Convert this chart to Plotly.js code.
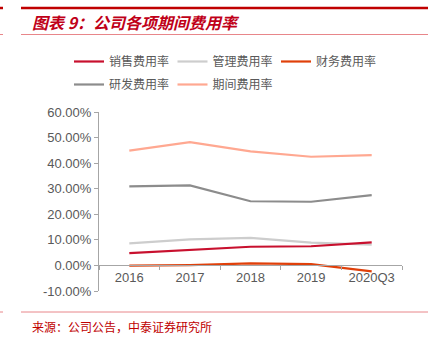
<!DOCTYPE html>
<html>
<head>
<meta charset="utf-8">
<script src="https://cdn.plot.ly/plotly-3.0.1.min.js"></script>
<style>html,body{margin:0;padding:0;background:#fff;}#chart{width:439px;height:345px;}</style>
</head>
<body>
<div id="chart"></div>
<script>
var categories = ['2016', '2017', '2018', '2019', '2020Q3'];
var salesRate = [4.8, 6.1, 7.3, 7.5, 9.0];
var adminRate = [8.6, 10.2, 10.8, 8.9, 8.1];
var financeRate = [-0.1, 0.1, 0.8, 0.5, -2.3];
var rdRate = [30.9, 31.3, 25.1, 24.9, 27.5];
var periodRate = [44.9, 48.2, 44.6, 42.5, 43.1];
var seriesNames = ['销售费用率', '管理费用率', '财务费用率', '研发费用率', '期间费用率'];
var tickVals = [-10, 0, 10, 20, 30, 40, 50, 60];
var tickText = ['-10.00%', '0.00%', '10.00%', '20.00%', '30.00%', '40.00%', '50.00%', '60.00%'];

var colors = ['#C8102E', '#CDCDCD', '#E0400A', '#8C8C8C', '#FFA891'];
var seriesData = [salesRate, adminRate, financeRate, rdRate, periodRate];
var legendIds = ['legend', 'legend', 'legend', 'legend2', 'legend2'];

var traces = seriesData.map(function (vals, i) {
  return {
    type: 'scatter', mode: 'lines', x: categories, y: vals, name: seriesNames[i],
    line: {color: colors[i], width: 2.2}, hoverinfo: 'skip',
    legend: legendIds[i], legendrank: i + 1
  };
});
// draw order: lighter lines behind
var order = [4, 3, 1, 0, 2];
var drawTraces = order.map(function (k) { return traces[k]; });

var L = 99, T = 112, W = 303, H = 179;
function px(x) { return (x - L) / W; }
function py(y) { return (T + H - y) / H; }

var legendBase = {
  orientation: 'h', x: px(69), xanchor: 'left', yanchor: 'top',
  font: {family: 'Noto Sans CJK SC, sans-serif', size: 12, color: '#595959'},
  entrywidth: 58.5, entrywidthmode: 'pixels', traceorder: 'normal',
  bgcolor: 'rgba(0,0,0,0)', itemclick: false
};

var layout = {
  width: 439, height: 345,
  margin: {l: L, r: 439 - L - W, t: T, b: 345 - T - H},
  paper_bgcolor: '#fff', plot_bgcolor: '#fff',
  font: {family: 'Liberation Sans, Arial, sans-serif', color: '#595959', size: 13},
  showlegend: true,
  legend: Object.assign({}, legendBase, {y: py(47)}),
  legend2: Object.assign({}, legendBase, {y: py(70)}),
  xaxis: {
    type: 'category', range: [-0.5, 4.5], anchor: 'free', position: 1 / 7,
    showline: true, linecolor: '#A6A6A6', linewidth: 1,
    ticks: 'outside', ticklen: 4, tickcolor: '#A6A6A6', tickson: 'boundaries',
    showgrid: false, zeroline: false, fixedrange: true,
    tickfont: {size: 13, color: '#595959'}
  },
  yaxis: {
    range: [-10, 60], tickvals: tickVals, ticktext: tickText,
    showline: true, linecolor: '#A6A6A6', linewidth: 1,
    ticks: 'outside', ticklen: 4, tickcolor: '#A6A6A6',
    showgrid: false, zeroline: false, fixedrange: true,
    tickfont: {size: 13, color: '#595959'}
  },
  shapes: [
    {type: 'line', xref: 'paper', yref: 'paper', x0: px(21), x1: px(428), y0: py(8), y1: py(8), line: {color: '#C00000', width: 2.5}},
    {type: 'line', xref: 'paper', yref: 'paper', x0: px(0), x1: px(3), y0: py(8), y1: py(8), line: {color: '#C00000', width: 2.5}},
    {type: 'line', xref: 'paper', yref: 'paper', x0: px(21), x1: px(428), y0: py(34.5), y1: py(34.5), line: {color: '#E8868A', width: 1}},
    {type: 'line', xref: 'paper', yref: 'paper', x0: px(0), x1: px(3), y0: py(34.5), y1: py(34.5), line: {color: '#E8868A', width: 1}},
    {type: 'line', xref: 'paper', yref: 'paper', x0: px(21), x1: px(428), y0: py(312), y1: py(312), line: {color: '#E8868A', width: 1}},
    {type: 'line', xref: 'paper', yref: 'paper', x0: px(0), x1: px(3), y0: py(312), y1: py(312), line: {color: '#E8868A', width: 1}}
  ],
  annotations: [
    {xref: 'paper', yref: 'paper', x: px(30), y: py(22), xanchor: 'left', yanchor: 'middle', showarrow: false,
     text: '<b><i>图表 9：公司各项期间费用率</i></b>',
     font: {family: 'Noto Sans CJK SC, sans-serif', size: 16, color: '#C00018'}},
    {xref: 'paper', yref: 'paper', x: px(30), y: py(326), xanchor: 'left', yanchor: 'middle', showarrow: false,
     text: '来源：公司公告，中泰证券研究所',
     font: {family: 'Noto Sans CJK SC, sans-serif', size: 12, color: '#C00000'}}
  ]
};

Plotly.newPlot('chart', drawTraces, layout, {displayModeBar: false, staticPlot: true});
</script>
</body>
</html>
